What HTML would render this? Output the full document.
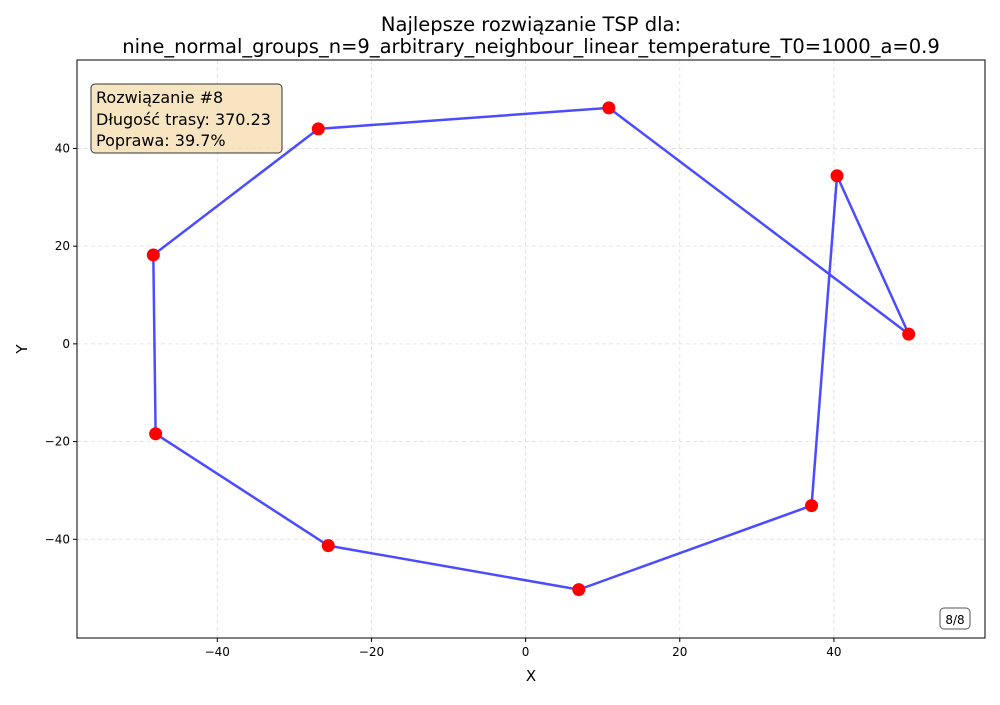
<!DOCTYPE html>
<html><head><meta charset="utf-8"><style>
body{margin:0;background:#fff;font-family:"Liberation Sans","DejaVu Sans",sans-serif;}
svg text{font-family:"DejaVu Sans","Liberation Sans",sans-serif;}
</style></head><body>
<svg id="chart" width="1000" height="700" xmlns="http://www.w3.org/2000/svg">
<rect width="1000" height="700" fill="#fff"/>
<text x="531" y="31" text-anchor="middle" font-size="19.5">Najlepsze rozwiązanie TSP dla:</text>
<text x="531" y="53" text-anchor="middle" font-size="19.5">nine_normal_groups_n=9_arbitrary_neighbour_linear_temperature_T0=1000_a=0.9</text>
<g id="grid"></g>
<g id="route"></g>
<g id="points"></g>
<rect x="77" y="60" width="908" height="578" fill="none" stroke="#000" stroke-width="1"/>
<g id="ticks"></g>
<text x="531" y="681" text-anchor="middle" font-size="15">X</text>
<text x="27" y="349" text-anchor="middle" font-size="15" transform="rotate(-90 27 349)">Y</text>
<g>
<rect x="91" y="84" width="191" height="69" rx="4" fill="#f5deb3" fill-opacity="0.8" stroke="#333"/>
<text x="96" y="103" font-size="16">Rozwiązanie #8</text>
<text x="96" y="125" font-size="16">Długość trasy: 370.23</text>
<text x="96" y="146" font-size="16">Poprawa: 39.7%</text>
</g>
<g>
<rect x="940" y="608" width="30" height="21" rx="4" fill="#fff" stroke="#555"/>
<text x="955" y="624" font-size="12" text-anchor="middle">8/8</text>
</g>
</svg>
<script>
const cityX=[-26.9,10.8,49.7,40.4,37.1,6.9,-25.6,-48.0,-48.3];
const cityY=[44.0,48.3,2.0,34.4,-33.1,-50.3,-41.3,-18.4,18.2];
const routeOrder=[0,1,2,3,4,5,6,7,8,0];
const xTicks=[-40,-20,0,20,40];
const yTicks=[-40,-20,0,20,40];
const L=77,R=985,T=60,B=638;
const xMin=-58.2,xMax=59.6,yMin=-60.2,yMax=58.1;
const sx=v=>L+(v-xMin)/(xMax-xMin)*(R-L);
const sy=v=>B-(v-yMin)/(yMax-yMin)*(B-T);
const NS="http://www.w3.org/2000/svg";
function mk(tag,attrs,parent){const e=document.createElementNS(NS,tag);for(const k in attrs)e.setAttribute(k,attrs[k]);parent.appendChild(e);return e;}
const grid=document.getElementById('grid'),ticks=document.getElementById('ticks');
xTicks.forEach(v=>{
 const g=mk('line',{x1:sx(v),x2:sx(v),y1:T,y2:B,stroke:'#ddd','stroke-dasharray':'4,3','stroke-width':0.8},grid);
 
 
 const t=mk('line',{x1:sx(v),x2:sx(v),y1:B,y2:B+4,stroke:'#000'},ticks);
 
 
 const l=mk('text',{x:sx(v),y:B+18,'text-anchor':'middle','font-size':12},ticks);
 l.textContent=String(v).replace('-','−');
 
 
});
yTicks.forEach(v=>{
 const g=mk('line',{x1:L,x2:R,y1:sy(v),y2:sy(v),stroke:'#ddd','stroke-dasharray':'4,3','stroke-width':0.8},grid);
 
 
 const t=mk('line',{x1:L-4,x2:L,y1:sy(v),y2:sy(v),stroke:'#000'},ticks);
 
 
 const l=mk('text',{x:L-7,y:sy(v)+4,'text-anchor':'end','font-size':12},ticks);
 l.textContent=String(v).replace('-','−');
 
 
});
const pts=routeOrder.map(i=>sx(cityX[i])+','+sy(cityY[i])).join(' ');
const route=mk('polyline',{points:pts,fill:'none',stroke:'#0000ff','stroke-opacity':0.7,'stroke-width':2.5},document.getElementById('route'));


cityX.forEach((x,i)=>{
 const c=mk('circle',{cx:sx(x),cy:sy(cityY[i]),r:6.5,fill:'#ff0000'},document.getElementById('points'));
 
 
});
</script>
</body></html>
